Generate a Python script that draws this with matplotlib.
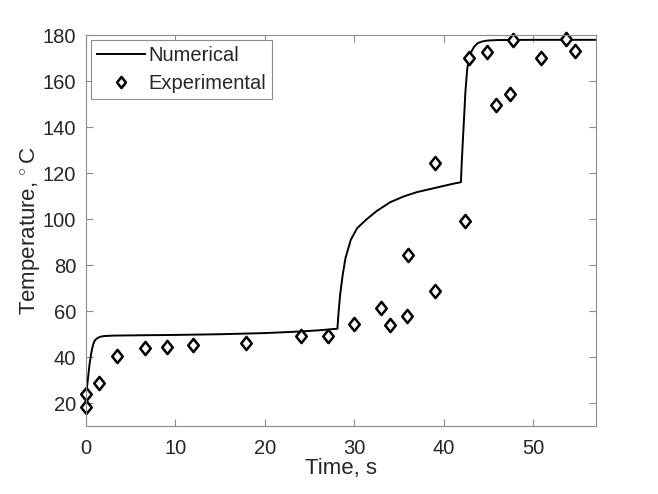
import matplotlib.pyplot as plt
from matplotlib.path import Path

plt.rcParams['font.family'] = ['Liberation Sans', 'DejaVu Sans']
plt.rcParams['mathtext.fontset'] = 'custom'
plt.rcParams['mathtext.rm'] = 'Liberation Sans'

# numerical curve
t_num = [0, 0.2, 0.4, 0.6, 0.8, 1.0, 1.3, 1.6, 2.0, 2.5, 3, 5, 10, 15, 20, 24, 26, 28.1,
         28.2, 28.4, 28.7, 29.0, 29.6, 30.3, 31.4, 32.5, 34.0, 35.5, 37.0, 39.0, 41.0, 41.9,
         42.0, 42.2, 42.4, 42.6, 42.8, 43.1, 43.4, 43.8, 44.3, 44.9, 46, 50, 57]
T_num = [23, 30, 37, 42, 45.5, 47.3, 48.3, 48.8, 49.1, 49.2, 49.3, 49.4, 49.6, 49.9, 50.4, 51.1, 51.6, 52.3,
         58, 67, 76, 83, 91, 96, 100, 103.5, 107.3, 109.8, 111.7, 113.5, 115.3, 116,
         125, 140, 155, 165, 170, 173, 175, 176.5, 177.2, 177.6, 177.8, 177.9, 177.9]

# experimental points
t_exp = [0, 0, 1.5, 3.5, 6.6, 9.0, 12.0, 17.9, 24.0, 27.0, 30.0, 33.0, 34.0, 35.9, 36.0,
         39.0, 39.0, 42.4, 42.8, 44.8, 45.8, 47.4, 47.7, 50.8, 53.6, 54.7]
T_exp = [24, 18.4, 28.9, 40.5, 43.9, 44.2, 45.3, 46.3, 49.3, 49.3, 54.4, 61.4, 54.1, 57.7, 84.3,
         68.9, 124.4, 99.3, 170.1, 172.7, 149.7, 154.5, 177.8, 170.1, 178.1, 173.0]

# MATLAB-like diamond, a bit narrower than tall
diamond = Path([(0, 0.5), (0.4, 0), (0, -0.5), (-0.4, 0), (0, 0.5)],
               [Path.MOVETO, Path.LINETO, Path.LINETO, Path.LINETO, Path.CLOSEPOLY])

grey = '#8c8c8c'
txtc = '#262626'

fig = plt.figure(figsize=(6.58, 4.94), dpi=100)
ax = fig.add_axes([86/658, 68/494, 510/658, 391/494])

ax.plot(t_num, T_num, color='black', linewidth=1.4, label='Numerical')
ax.plot(t_exp, T_exp, linestyle='none', marker=diamond, markersize=9.5, markerfacecolor='white',
        markeredgecolor='black', markeredgewidth=1.8, label='Experimental', clip_on=False)

ax.set_xlim(0, 57)
ax.set_ylim(10, 180)
ax.set_xticks([0, 10, 20, 30, 40, 50])
ax.set_yticks([20, 40, 60, 80, 100, 120, 140, 160, 180])
ax.tick_params(direction='in', top=True, right=True, labelsize=14.5, labelcolor=txtc,
               color=grey, length=5, width=0.8)
ax.tick_params(axis='y', pad=7)
ax.tick_params(axis='x', pad=9)
for sp in ax.spines.values():
    sp.set_color(grey)
    sp.set_linewidth(0.8)

ax.set_xlabel('Time, s', fontsize=16, color=txtc, labelpad=0)
ax.set_ylabel('Temperature, $^{\\circ}\\,$C', fontsize=16, color=txtc, labelpad=0)

leg = ax.legend(loc='upper left', fontsize=14.5, frameon=True, fancybox=False,
                borderaxespad=0.25, handlelength=2.4, handletextpad=0.15,
                borderpad=0.3, labelspacing=0.45, framealpha=1)
leg.get_frame().set_edgecolor(grey)
leg.get_frame().set_linewidth(0.8)
for txt in leg.get_texts():
    txt.set_color(txtc)
leg.legend_handles[1].set_markersize(8)

fig.savefig('out.png', dpi=100)
